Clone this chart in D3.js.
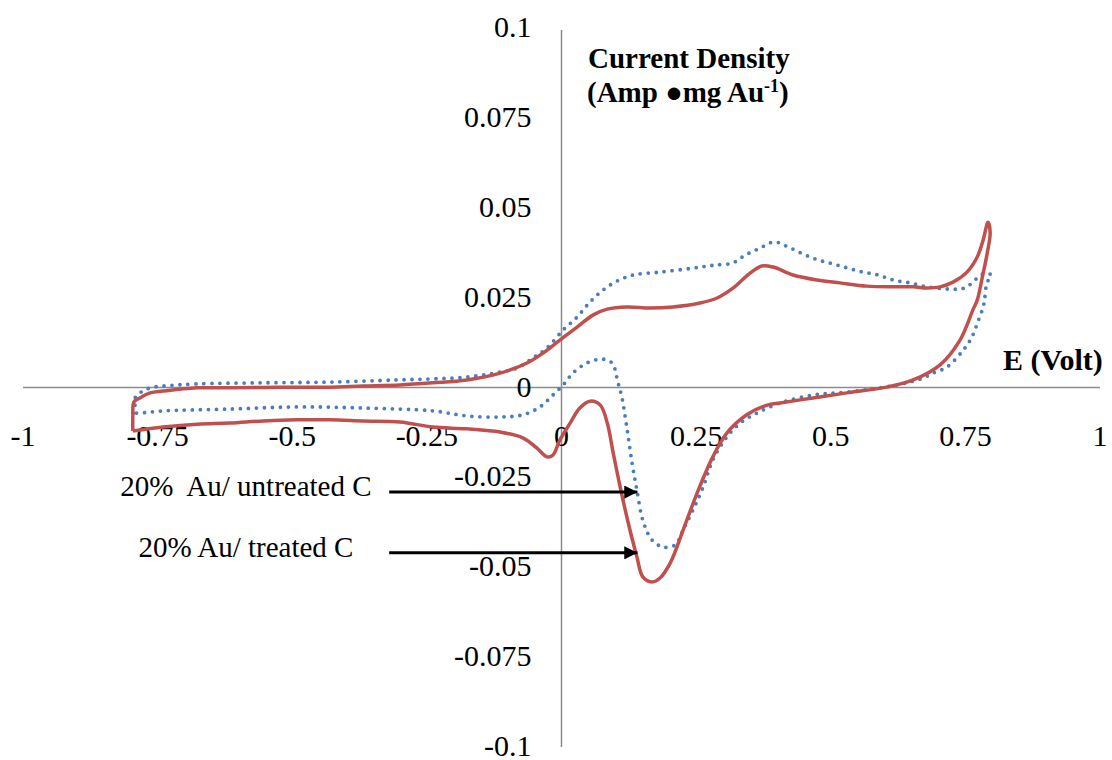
<!DOCTYPE html>
<html>
<head>
<meta charset="utf-8">
<script src="https://cdn.jsdelivr.net/npm/d3@7"></script>
<style>
  body { margin: 0; background: #fff; }
</style>
</head>
<body>
<div id="my_dataviz"></div>
<script>

// tick values for both axes
var xTicks = [-1, -0.75, -0.5, -0.25, 0, 0.25, 0.5, 0.75, 1],
    yTicks = [-0.1, -0.075, -0.05, -0.025, 0, 0.025, 0.05, 0.075, 0.1];

// 20% Au/ treated C  (potential E [V], current density)
var treatedE = [-0.796, -0.796, -0.794, -0.783, -0.764, -0.740, -0.677, -0.616, -0.554, -0.491,
  -0.430, -0.369, -0.300, -0.239, -0.176, -0.114, -0.064, -0.034, -0.003, 0.029,
  0.059, 0.085, 0.122, 0.164, 0.207, 0.257, 0.289, 0.319, 0.350, 0.372,
  0.393, 0.430, 0.475, 0.517, 0.567, 0.616, 0.653, 0.679, 0.703, 0.727,
  0.753, 0.772, 0.783, 0.792, 0.796, 0.790, 0.783, 0.772, 0.764, 0.740,
  0.703, 0.653, 0.604, 0.530, 0.467, 0.406, 0.382, 0.344, 0.307, 0.281,
  0.252, 0.226, 0.202, 0.183, 0.168, 0.151, 0.140, 0.124, 0.109, 0.096,
  0.085, 0.072, 0.053, 0.034, 0.016, -0.003, -0.016, -0.027, -0.046, -0.072,
  -0.114, -0.176, -0.239, -0.300, -0.369, -0.430, -0.491, -0.554, -0.616, -0.677,
  -0.740, -0.796];
var treatedJ = [-0.0121, -0.0076, -0.0040, -0.0029, -0.0015, -0.0010, -0.0001, -0.0001, 0.0000, 0.0001,
  0.0001, 0.0004, 0.0007, 0.0013, 0.0021, 0.0040, 0.0068, 0.0096, 0.0132, 0.0168,
  0.0202, 0.0218, 0.0224, 0.0221, 0.0224, 0.0235, 0.0249, 0.0277, 0.0318, 0.0338,
  0.0335, 0.0313, 0.0299, 0.0291, 0.0282, 0.0280, 0.0280, 0.0277, 0.0280, 0.0293,
  0.0321, 0.0363, 0.0410, 0.0460, 0.0430, 0.0369, 0.0318, 0.0243, 0.0216, 0.0132,
  0.0063, 0.0021, 0.0001, -0.0015, -0.0029, -0.0043, -0.0049, -0.0076, -0.0127, -0.0193,
  -0.0293, -0.0396, -0.0488, -0.0530, -0.0541, -0.0527, -0.0471, -0.0377, -0.0277, -0.0182,
  -0.0099, -0.0049, -0.0038, -0.0057, -0.0099, -0.0146, -0.0188, -0.0193, -0.0168, -0.0140,
  -0.0124, -0.0115, -0.0110, -0.0096, -0.0093, -0.0090, -0.0090, -0.0093, -0.0099, -0.0102,
  -0.0110, -0.0121];

// 20% Au/ untreated C
var untreatedE = [-0.796, -0.792, -0.792, -0.786, -0.777, -0.764, -0.740, -0.677, -0.554, -0.430,
  -0.306, -0.239, -0.176, -0.114, -0.083, -0.053, -0.027, 0.003, 0.029, 0.053,
  0.077, 0.103, 0.133, 0.183, 0.244, 0.272, 0.289, 0.317, 0.341, 0.369,
  0.395, 0.421, 0.449, 0.476, 0.504, 0.532, 0.560, 0.588, 0.616, 0.647,
  0.679, 0.718, 0.749, 0.783, 0.798, 0.790, 0.786, 0.783, 0.773, 0.762,
  0.746, 0.716, 0.690, 0.671, 0.623, 0.530, 0.467, 0.406, 0.363, 0.332,
  0.307, 0.281, 0.263, 0.244, 0.226, 0.211, 0.189, 0.168, 0.151, 0.140,
  0.131, 0.122, 0.112, 0.105, 0.094, 0.075, 0.047, 0.021, 0.003, -0.016,
  -0.040, -0.072, -0.114, -0.176, -0.239, -0.369, -0.491, -0.616, -0.740, -0.783,
  -0.796];
var untreatedJ = [-0.0071, -0.0049, -0.0029, -0.0018, -0.0010, -0.0001, 0.0004, 0.0010, 0.0013, 0.0015,
  0.0021, 0.0024, 0.0029, 0.0043, 0.0054, 0.0082, 0.0110, 0.0160, 0.0196, 0.0238,
  0.0271, 0.0296, 0.0313, 0.0321, 0.0332, 0.0338, 0.0341, 0.0346, 0.0368, 0.0388,
  0.0405, 0.0391, 0.0371, 0.0355, 0.0344, 0.0332, 0.0321, 0.0313, 0.0299, 0.0291,
  0.0280, 0.0274, 0.0277, 0.0316, 0.0313, 0.0291, 0.0249, 0.0224, 0.0182, 0.0140,
  0.0104, 0.0057, 0.0040, 0.0026, 0.0007, -0.0013, -0.0021, -0.0043, -0.0071, -0.0099,
  -0.0138, -0.0202, -0.0277, -0.0341, -0.0396, -0.0438, -0.0444, -0.0424, -0.0369, -0.0285,
  -0.0210, -0.0118, -0.0026, 0.0013, 0.0068, 0.0079, 0.0068, 0.0040, 0.0007, -0.0021,
  -0.0054, -0.0076, -0.0082, -0.0079, -0.0065, -0.0057, -0.0054, -0.0060, -0.0065, -0.0071,
  -0.0071];

// arrow labels: text, label E, arrow start E, arrow tip E, arrow J
var noteText = ["20%  Au/ untreated C", "20% Au/ treated C"],
    noteLabelE = [-0.586, -0.586],
    noteFromE = [-0.320, -0.320],
    noteToE = [0.141, 0.141],
    noteJ = [-0.0291, -0.0460];

var width = 1112,
    height = 760,
    serif = "'Liberation Serif', 'Times New Roman', 'DejaVu Serif', serif";

var svg = d3.select("#my_dataviz")
  .append("svg")
  .attr("width", width)
  .attr("height", height)
  .attr("font-family", serif)
  .style("font-family", serif);

var x = d3.scaleLinear()
  .domain([-1, 1])
  .range([23, 1100]);
var y = d3.scaleLinear()
  .domain([-0.1, 0.1])
  .range([747, 28]);

// axis lines (no tick marks, labels placed away from the lines)
svg.append("line")
  .attr("x1", x(-1)).attr("x2", x(1))
  .attr("y1", y(0)).attr("y2", y(0))
  .attr("stroke", "#8c8c8c")
  .attr("stroke-width", 1.5);
svg.append("line")
  .attr("x1", x(0)).attr("x2", x(0))
  .attr("y1", y(0.1) + 2).attr("y2", y(-0.1))
  .attr("stroke", "#8c8c8c")
  .attr("stroke-width", 1.5);

svg.append("g")
  .selectAll("text")
  .data(xTicks)
  .enter()
  .append("text")
  .attr("x", function(d) { return x(d); })
  .attr("y", y(0) + 58)
  .attr("text-anchor", "middle")
  .attr("font-size", 30)
  .text(function(d) { return d; });

svg.append("g")
  .selectAll("text")
  .data(yTicks)
  .enter()
  .append("text")
  .attr("x", x(0) - 30)
  .attr("y", function(d) { return y(d) + 9; })
  .attr("text-anchor", "end")
  .attr("font-size", 30)
  .text(function(d) { return d; });

// axis titles
svg.append("text")
  .attr("x", 588)
  .attr("y", 68)
  .attr("font-size", 29)
  .attr("font-weight", "bold")
  .text("Current Density");
var t2 = svg.append("text")
  .attr("x", 587)
  .attr("y", 102)
  .attr("font-size", 29)
  .attr("font-weight", "bold");
t2.append("tspan").text("(Amp \u25cfmg Au");
t2.append("tspan").attr("font-size", 18).attr("dy", -10).text("-1");
t2.append("tspan").attr("dy", 10).text(")");

svg.append("text")
  .attr("x", 1003)
  .attr("y", 370)
  .attr("font-size", 30)
  .attr("font-weight", "bold")
  .text("E (Volt)");

// CV loops -------------------------------------------------------------//
var line = d3.line()
  .x(function(d) { return x(d[0]); })
  .y(function(d) { return y(d[1]); })
  .curve(d3.curveCatmullRom);

svg.append("path")
  .datum(d3.zip(untreatedE, untreatedJ))
  .attr("fill", "none")
  .attr("stroke", "#4a7ebb")
  .attr("stroke-width", 3.8)
  .attr("stroke-linecap", "round")
  .attr("stroke-dasharray", "0 8")
  .attr("d", line);

svg.append("path")
  .datum(d3.zip(treatedE, treatedJ))
  .attr("fill", "none")
  .attr("stroke", "#c0504d")
  .attr("stroke-width", 3.5)
  .attr("stroke-linejoin", "round")
  .attr("d", line);

// arrows + labels
svg.append("defs").append("marker")
  .attr("id", "arrow")
  .attr("viewBox", "0 0 10 10")
  .attr("refX", 10)
  .attr("refY", 5)
  .attr("markerWidth", 5)
  .attr("markerHeight", 4.4)
  .attr("markerUnits", "strokeWidth")
  .attr("orient", "auto")
  .append("path")
  .attr("d", "M0,0L10,5L0,10Z")
  .attr("fill", "#000");

noteText.forEach(function(s, i) {
  svg.append("line")
    .attr("x1", x(noteFromE[i]))
    .attr("x2", x(noteToE[i]))
    .attr("y1", y(noteJ[i]))
    .attr("y2", y(noteJ[i]))
    .attr("stroke", "#000")
    .attr("stroke-width", 3)
    .attr("marker-end", "url(#arrow)");
  svg.append("text")
    .attr("x", x(noteLabelE[i]))
    .attr("y", y(noteJ[i]) + 4)
    .attr("text-anchor", "middle")
    .attr("font-size", 29)
    .style("white-space", "pre")
    .text(s);
});
</script>
</body>
</html>
